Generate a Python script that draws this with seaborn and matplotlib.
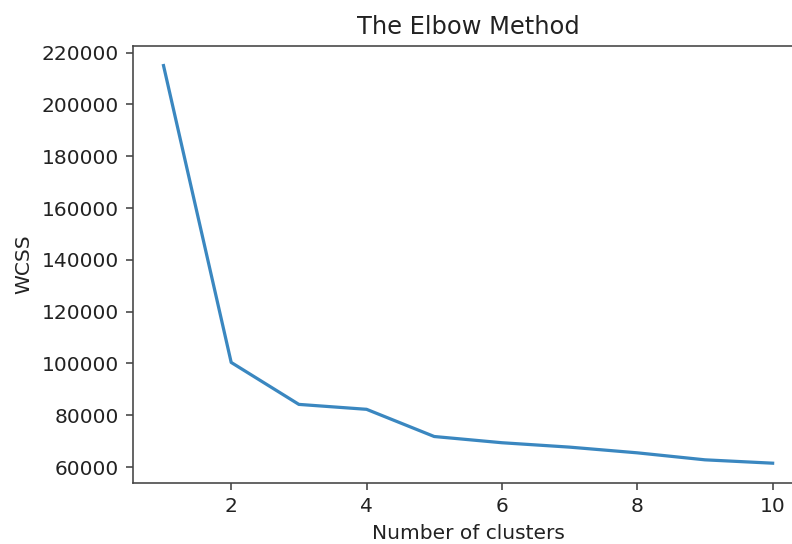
import pandas as pd
import seaborn as sns
import matplotlib.pyplot as plt

# Elbow method data
n_clusters = [1, 2, 3, 4, 5, 6, 7, 8, 9, 10]
wcss = [215000, 100400, 84200, 82300, 71800, 69400, 67700, 65500, 62800, 61500]

df = pd.DataFrame({"clusters": n_clusters, "wcss": wcss})

fig = plt.figure(figsize=(792 / 145, 544 / 145), dpi=145)
# the original picture is cropped on the right, so the axes run past the edge
ax = fig.add_axes([0.168, 0.112, 0.846, 0.804])
sns.lineplot(data=df, x="clusters", y="wcss", ax=ax, color="#3a87c0", linewidth=1.6)

ax.set_title("The Elbow Method", color="#222222")
ax.set_xlabel("Number of clusters", color="#222222")
ax.set_ylabel("WCSS", color="#222222")
ax.set_yticks(range(60000, 220001, 20000))
ax.set_xticks([2, 4, 6, 8, 10])
ax.tick_params(colors="#444444", labelcolor="#222222")
for s in ax.spines.values():
    s.set_color("#444444")

plt.savefig("out.png", dpi=145)
